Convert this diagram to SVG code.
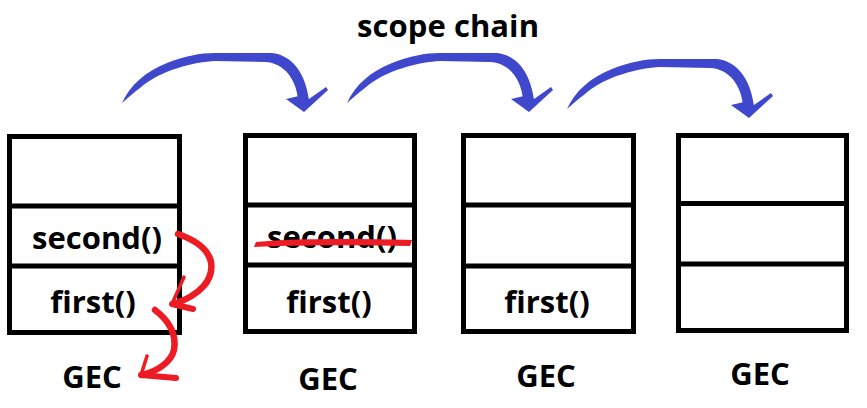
<svg xmlns="http://www.w3.org/2000/svg" xmlns:xlink="http://www.w3.org/1999/xlink" width="867" height="408" viewBox="0 0 867 408">
<style>
.box{fill:#fff;stroke:#000;stroke-width:5}
.div{stroke:#000;stroke-width:5}
.t{font-family:"Open Sans","Noto Sans","Liberation Sans",sans-serif;font-weight:bold;font-size:31px;fill:#000;text-anchor:middle}
.red{fill:none;stroke:#ED1C24;stroke-linecap:round;stroke-linejoin:round}
.blue{fill:#3F48CC}
</style>
<defs>
<g id="bluearrow">
<path class="blue" d="M122,103 C130,85 145,72 167,63 C185,56 200,53 215,53 L272,53 C290,55 305,70 309,100 L298,99 C296,80 285,63 265,62 L215,61 C195,62 160,70 140,88 C133,93 128,98 122,103 Z"/>
<path class="blue" d="M286,99 L299,96 L309,99 L326,87 L328,90 L304,112 Z"/>
</g>
</defs>
<rect width="867" height="408" fill="#fff"/>
<text class="t" x="448" y="37" textLength="182" lengthAdjust="spacing">scope chain</text>
<g id="stack1">
<rect class="box" x="9.5" y="136.5" width="170" height="196"/>
<line class="div" x1="9.5" y1="206" x2="179.5" y2="206"/>
<line class="div" x1="9.5" y1="266" x2="179.5" y2="266"/>
<text class="t" x="97" y="249">second()</text>
<text class="t" x="93" y="313">first()</text>
<text class="t" x="92" y="388">GEC</text>
</g>
<g id="stack2">
<rect class="box" x="245.5" y="135.5" width="169" height="196"/>
<line class="div" x1="245.5" y1="205" x2="414.5" y2="205"/>
<line class="div" x1="245.5" y1="265" x2="414.5" y2="265"/>
<text class="t" x="332" y="248">second()</text>
<path fill="#ED1C24" d="M254,247 L256,242 C300,238 360,239 412,240 L410,246 C360,245 300,245 254,247 Z"/>
<text class="t" x="329" y="313">first()</text>
<text class="t" x="328" y="390">GEC</text>
</g>
<g id="stack3">
<rect class="box" x="463.5" y="135.5" width="170" height="196"/>
<line class="div" x1="463.5" y1="205" x2="633.5" y2="205"/>
<line class="div" x1="463.5" y1="266" x2="633.5" y2="266"/>
<text class="t" x="547" y="313">first()</text>
<text class="t" x="546" y="387">GEC</text>
</g>
<g id="stack4">
<rect class="box" x="678.5" y="135.5" width="168" height="195"/>
<line class="div" x1="678.5" y1="203.5" x2="846.5" y2="203.5"/>
<line class="div" x1="678.5" y1="264" x2="846.5" y2="264"/>
<text class="t" x="760" y="385">GEC</text>
</g>
<g id="connectors">
<use xlink:href="#bluearrow"/>
<use xlink:href="#bluearrow" transform="translate(225,0)"/>
<use xlink:href="#bluearrow" transform="translate(445,6)"/>
<path class="red" stroke-width="6.5" d="M178,234 C195,240 208,248 211,262 C214,280 200,295 174,304"/>
<path class="red" stroke-width="3.5" d="M184,277 L172,304"/>
<path class="red" stroke-width="6" d="M172,304 L193,309"/>
<path class="red" stroke-width="6.5" d="M155,310 C168,320 177,333 174,350 C171,362 158,371 142,375"/>
<path class="red" stroke-width="3.5" d="M147,356 L141,375"/>
<path class="red" stroke-width="6" d="M141,375 L176,378"/>
</g>
</svg>
